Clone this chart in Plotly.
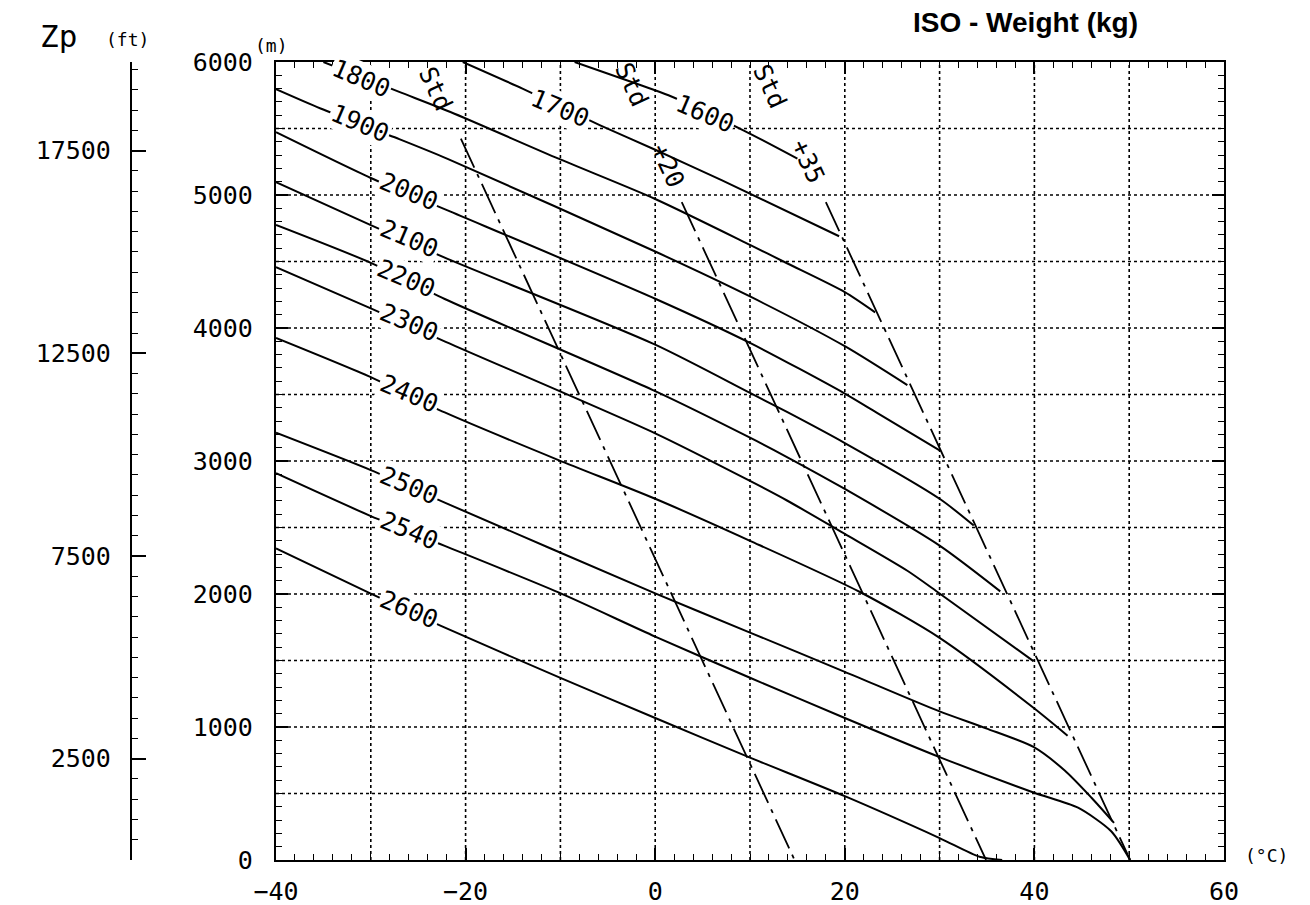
import plotly.graph_objects as go

# ---------------- data ----------------
T_TICKS = [-40, -20, 0, 20, 40, 60]                 # deg C labels
H_TICKS = [0, 1000, 2000, 3000, 4000, 5000, 6000]   # m labels
FT_TICKS = [2500, 7500, 12500, 17500]               # ft labels
T_GRID = [-30, -20, -10, 0, 10, 20, 30, 40, 50]
H_GRID = [500, 1000, 1500, 2000, 2500, 3000, 3500, 4000, 4500, 5000, 5500]

# iso-weight curves (temperature degC, pressure altitude m)
W1600_T = [-8.5, -1.5, 1.4, 9.3, 15.0]
W1600_H = [6000, 5825, 5750, 5486, 5273]
W1700_T = [-20.3, -14.0, -5.8, 0.0, 7.0, 19.4]
W1700_H = [6000, 5800, 5524, 5340, 5112, 4690]
W1800_T = [-35.0, -27.0, -21.6, -10.2, 0.0, 10.0, 13.9, 20.0, 23.2]
W1800_H = [6000, 5775, 5624, 5273, 4970, 4625, 4487, 4270, 4118]
W1900_T = [-40.0, -35.3, -27.0, -21.9, 0.0, 10.0, 20.0, 26.6]
W1900_H = [5795, 5650, 5420, 5272, 4575, 4237, 3863, 3570]
W2000_T = [-40.0, -30.0, -21.9, 0.0, 10.0, 20.0, 23.4, 30.0]
W2000_H = [5472, 5128, 4884, 4220, 3888, 3507, 3362, 3080]
W2100_T = [-40.0, -30.0, -21.9, 0.0, 10.0, 13.9, 20.0, 30.0, 33.6]
W2100_H = [5097, 4773, 4520, 3875, 3512, 3369, 3135, 2716, 2515]
W2200_T = [-40.0, -30.0, -22.2, 0.0, 10.0, 13.9, 20.0, 30.0, 36.4]
W2200_H = [4775, 4490, 4218, 3525, 3175, 3030, 2790, 2364, 2020]
W2300_T = [-40.0, -30.0, -22.1, 0.0, 10.0, 13.9, 20.0, 26.6, 30.0, 39.9]
W2300_H = [4458, 4148, 3896, 3208, 2850, 2703, 2452, 2175, 2004, 1495]
W2400_T = [-40.0, -30.0, -22.2, -10.2, 0.0, 10.0, 21.6, 30.0, 39.9, 43.5]
W2400_H = [3925, 3630, 3365, 3007, 2716, 2400, 2015, 1670, 1145, 935]
W2500_T = [-40.0, -30.0, -22.2, 0.0, 10.0, 20.0, 30.0, 34.9, 39.9, 43.2, 46.0, 48.4]
W2500_H = [3212, 2931, 2687, 2005, 1710, 1415, 1117, 990, 850, 673, 470, 279]
W2540_T = [-40.0, -30.0, -22.2, -10.2, 0.0, 10.0, 20.0, 30.0, 39.9, 44.6, 48.1, 50.1]
W2540_H = [2908, 2586, 2362, 2012, 1680, 1370, 1068, 774, 508, 393, 216, 0]
W2600_T = [-40.0, -30.0, -22.6, -10.0, 0.0, 10.0, 20.0, 30.0, 34.2, 36.6]
W2600_H = [2342, 2003, 1760, 1369, 1068, 770, 480, 165, 25, 0]

WEIGHTS = ["1600", "1700", "1800", "1900", "2000", "2100",
           "2200", "2300", "2400", "2500", "2540", "2600"]

# ISA reference lines (dash-dot)
STD_T = [-20.5, 14.7]
STD_H = [5424, 0]
STD20_T = [2.8, 34.9]
STD20_H = [4947, 0]
STD35_T = [18.0, 50.1]
STD35_H = [4947, 0]

# ---------------- figure ----------------
ISO = [
    (W1600_T, W1600_H), (W1700_T, W1700_H), (W1800_T, W1800_H),
    (W1900_T, W1900_H), (W2000_T, W2000_H), (W2100_T, W2100_H),
    (W2200_T, W2200_H), (W2300_T, W2300_H), (W2400_T, W2400_H),
    (W2500_T, W2500_H), (W2540_T, W2540_H), (W2600_T, W2600_H),
]

MONO = "DejaVu Sans Mono"
fig = go.Figure()

for (ts, hs), name in zip(ISO, WEIGHTS):
    fig.add_trace(go.Scatter(
        x=ts, y=hs, mode="lines", name=name,
        line=dict(color="black", width=2, shape="spline", smoothing=0.7),
        hoverinfo="skip", showlegend=False))

for ts, hs, name in [(STD_T, STD_H, "Std"), (STD20_T, STD20_H, "Std +20"),
                     (STD35_T, STD35_H, "Std +35")]:
    fig.add_trace(go.Scatter(
        x=ts, y=hs, mode="lines", name=name,
        line=dict(color="black", width=1.8, dash="32px,7px,4px,7px"),
        hoverinfo="skip", showlegend=False))

# empty trace to register the feet axis
fig.add_trace(go.Scatter(x=[], y=[], yaxis="y2", showlegend=False, hoverinfo="skip"))

# dotted grid
for t in T_GRID:
    fig.add_shape(type="line", xref="x", yref="y", x0=t, x1=t,
                  y0=H_TICKS[0], y1=H_TICKS[-1], layer="below",
                  line=dict(color="black", width=1.6, dash="dot"))
for h in H_GRID:
    fig.add_shape(type="line", xref="x", yref="y", x0=T_TICKS[0], x1=T_TICKS[-1],
                  y0=h, y1=h, layer="below",
                  line=dict(color="black", width=1.6, dash="dot"))

# on-curve weight labels (centre positions along each curve)
LABEL_POS = [(5.2, 5615), (-10.0, 5650), (-31.0, 5875), (-31.1, 5540),
             (-26.0, 5030), (-26.0, 4670), (-26.3, 4370), (-26.0, 4040),
             (-26.0, 3505), (-26.0, 2815), (-26.0, 2475), (-26.0, 1885)]
for name, (tx, hy) in zip(WEIGHTS, LABEL_POS):
    fig.add_annotation(x=tx, y=hy, xref="x", yref="y", text=name, showarrow=False,
                       textangle=23, bgcolor="white", borderpad=1,
                       font=dict(family=MONO, size=25, color="black"))

STD_LABELS = [("Std", -23.2, 5800), ("Std", -2.5, 5830), ("+20", 1.3, 5220),
              ("Std", 12.1, 5815), ("+35", 16.1, 5250)]
for txt, tx, hy in STD_LABELS:
    fig.add_annotation(x=tx, y=hy, xref="x", yref="y", text=txt, showarrow=False,
                       textangle=65, font=dict(family=MONO, size=25, color="black"))

# ---------------- layout ----------------
OFF = 8                      # page body offset of the plot div
L, R, TOP, BOT = 131, 1224, 62, 860   # target page pixels of the plot frame
W, HH = R - L, BOT - TOP


def paper(px, py):
    return (px - L) / W, (BOT - py) / HH


def pap_note(text, px, py, size, family=MONO):
    x, y = paper(px, py)
    fig.add_annotation(x=x, y=y, xref="paper", yref="paper", text=text,
                       showarrow=False, xanchor="center", yanchor="middle",
                       font=dict(family=family, size=size, color="black"))


pap_note("<b>ISO - Weight (kg)</b>", 1025, 22, 28, "Liberation Sans, Arial")
pap_note("Zp", 58, 36, 31)
pap_note("(ft)", 127, 40, 18)
pap_note("(m)", 271, 45, 18)
pap_note("(°C)", 1266, 855, 18)

tickfont = dict(family=MONO, size=25, color="black")
x_dom0 = (276 - L) / W

fig.update_layout(
    width=1310, height=905, autosize=False,
    margin=dict(l=L - OFF, r=1310 - R + OFF, t=TOP - OFF, b=905 - BOT + OFF,
                pad=0, autoexpand=False),
    paper_bgcolor="white", plot_bgcolor="white",
    showlegend=False,
    xaxis=dict(domain=[x_dom0, 1], range=[T_TICKS[0], T_TICKS[-1]],
               tickvals=T_TICKS, ticks="inside", ticklen=12, tickwidth=1.6,
               tickcolor="black", showgrid=False, zeroline=False, automargin=False,
               showline=True, linewidth=2.2, linecolor="black", mirror="ticks",
               tickfont=tickfont, ticklabelstandoff=8,
               minor=dict(dtick=2, tick0=0, ticks="inside", ticklen=6,
                          tickwidth=1.4, tickcolor="black", showgrid=False)),
    yaxis=dict(range=[H_TICKS[0], H_TICKS[-1]], tickvals=H_TICKS,
               ticktext=[str(v) for v in H_TICKS],
               ticks="inside", ticklen=12, tickwidth=1.6, tickcolor="black",
               showgrid=False, zeroline=False, automargin=False,
               showline=True, linewidth=2.2, linecolor="black", mirror="ticks",
               tickfont=tickfont, ticklabelstandoff=16,
               minor=dict(dtick=100, tick0=0, ticks="inside", ticklen=6,
                          tickwidth=1.4, tickcolor="black", showgrid=False)),
    yaxis2=dict(overlaying="y", anchor="free", position=0, side="left",
                range=[0, H_TICKS[-1] / 0.3048], tickvals=FT_TICKS,
                ticktext=[str(v) for v in FT_TICKS],
                ticks="inside", ticklen=14, tickwidth=1.6, tickcolor="black",
                showgrid=False, zeroline=False, automargin=False,
                showline=True, linewidth=2.2, linecolor="black",
                tickfont=tickfont, ticklabelstandoff=14,
                minor=dict(dtick=500, tick0=0, ticks="inside", ticklen=6,
                           tickwidth=1.4, tickcolor="black", showgrid=False)),
)

fig.write_html("out.html")
